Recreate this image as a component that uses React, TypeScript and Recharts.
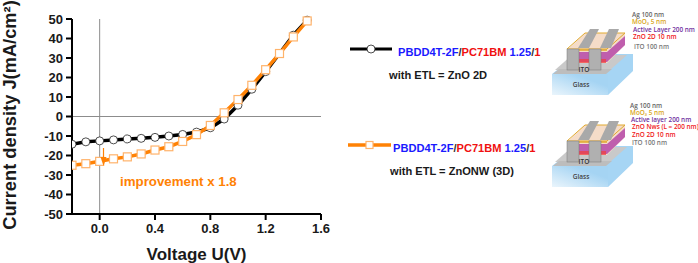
import { ComposedChart, Line, XAxis, YAxis, ReferenceLine } from 'recharts'

const voltage = [-0.2, -0.1, 0, 0.1, 0.2, 0.3, 0.4, 0.5, 0.6, 0.7, 0.8, 0.9, 1.0, 1.1, 1.2, 1.3, 1.4, 1.5]
const zno2d = [-14.2, -13, -12.5, -12, -11.5, -11.2, -10.7, -10, -9.2, -8, -5.8, -1.3, 5.8, 14, 23, 32.3, 41.7, 49.4]
const znoNw = [-25, -24.2, -23, -21.7, -20.7, -19.2, -17.2, -15.5, -12.8, -9.3, -4.6, 1.9, 8.7, 16, 24, 32.3, 40.8, 49]
const xTicks = [0, 0.4, 0.8, 1.2, 1.6]
const yTicks = [-50, -40, -30, -20, -10, 0, 10, 20, 30, 40, 50]

const data = voltage.map((v, i) => ({ v, zno2d: zno2d[i], znoNw: znoNw[i] }))

const ORANGE = '#ff8205'
const FONT = '"Liberation Sans", Arial, sans-serif'

function SquareDot({ cx, cy }: any) {
  return <rect x={cx - 4} y={cy - 4} width={8} height={8} fill="#fff" stroke="#ffb36b" strokeWidth={1.2} />
}

function Device({ dy, labels }: { dy: number; labels: { text: string; x: number; y: number; color: string }[] }) {
  return (
    <g fontFamily={'"Open Sans", sans-serif'}>
      {labels.map((l) => (
        <text key={l.text} x={l.x} y={l.y} fontSize={6.4} fontWeight={600} fill={l.color}>{l.text}</text>
      ))}
      <g transform={`translate(0 ${dy})`}>
        <defs>
          <linearGradient id={`glass${dy}`} x1="0" y1="1" x2="1" y2="0">
            <stop offset="0" stopColor="#eaf5fc" />
            <stop offset="0.7" stopColor="#a5d4f3" />
          </linearGradient>
        </defs>
        <polygon points="552,74 608,74 608,95 552,95" fill={`url(#glass${dy})`} />
        <polygon points="552,74 578,54 633,54 633,71 608,95 608,74" fill="#a6d5f4" />
        <polygon points="555,70 610,70 627,55 572,55" fill="#c9c9c9" />
        <polygon points="553,74 606,74 612,69 559,69" fill="#bdbdbd" />
        <polygon points="567,50 585,33 625,33 625,45 607,63 567,63" fill="#f5dcc8" />
        <polygon points="567,52 607,52 625,36 625,45 607,62 567,62" fill="#b23fa6" opacity={0.8} />
        <polygon points="568,59 606,59 606,63 568,63" fill="#f04040" opacity={0.75} />
        <polygon points="567,49 585,33 625,33 607,49" fill="none" stroke="#e0a92e" strokeWidth={1} />
        <line x1="567" y1="50" x2="607" y2="50" stroke="#e0a92e" strokeWidth={1.5} />
        <polygon points="578,48 590,29 599,29 589,48" fill="#a9a9a9" />
        <polygon points="600,48 609,29 619,29 611,48" fill="#a9a9a9" />
        <rect x="567" y="49" width="12" height="21" fill="#b0b0b0" stroke="#777" strokeWidth={0.5} />
        <rect x="589" y="49" width="12" height="21" fill="#b0b0b0" stroke="#777" strokeWidth={0.5} />
        <text x="584" y="71.5" fontSize={6.5} fontWeight={600} textAnchor="middle" fill="#333">ITO</text>
        <text x="581" y="86.5" fontSize={6.5} fontWeight={600} textAnchor="middle" fill="#444">Glass</text>
      </g>
    </g>
  )
}

function Title({ x, y }: { x: number; y: number }) {
  return (
    <text x={x} y={y} fontSize={11.1} fontWeight={700} fontFamily={FONT}>
      <tspan fill="#1a1aff">PBDD4T-2F</tspan>
      <tspan fill="#333">/</tspan>
      <tspan fill="#f01010">PC71BM</tspan>
      <tspan fill="#1a1aff"> 1.25</tspan>
      <tspan fill="#333">/</tspan>
      <tspan fill="#f01010">1</tspan>
    </text>
  )
}

function YTitle() {
  return (
    <text
      transform="translate(16 115) rotate(-90)"
      textAnchor="middle"
      fontSize={18.3}
      fontWeight={700}
      fontFamily={FONT}
      fill="#1a1a1a"
    >
      Current density J(mA/cm²)
    </text>
  )
}

export default function App() {
  return (
    <div style={{ position: 'absolute', left: 0, top: 0, width: 698, height: 263, background: '#fff' }}>
      <ComposedChart
        width={698}
        height={263}
        data={data}
        margin={{ top: 19, right: 377, bottom: 0, left: 0 }}
        style={{ fontFamily: FONT }}
      >
        <XAxis
          dataKey="v"
          type="number"
          domain={[-0.2, 1.6]}
          ticks={xTicks}
          interval={0}
          allowDataOverflow
          tickFormatter={(v: number) => v.toFixed(1)}
          height={49}
          tickSize={6}
          tickMargin={4}
          axisLine={{ stroke: '#000', strokeWidth: 2 }}
          tickLine={{ stroke: '#000', strokeWidth: 2 }}
          tick={{ fill: '#1a1a1a', fontSize: 13, fontWeight: 700 }}
          label={{ value: 'Voltage U(V)', position: 'insideBottom', offset: 3, fill: '#1a1a1a', fontSize: 17, fontWeight: 700 }}
        />
        <YAxis
          type="number"
          domain={[-50, 50]}
          ticks={yTicks}
          interval={0}
          width={72}
          tickSize={6}
          tickMargin={3}
          axisLine={{ stroke: '#000', strokeWidth: 2 }}
          tickLine={{ stroke: '#000', strokeWidth: 2 }}
          tick={{ fill: '#1a1a1a', fontSize: 13, fontWeight: 700 }}
        />
        <ReferenceLine x={0} stroke="#8c8c8c" strokeWidth={1} />
        <ReferenceLine y={0} stroke="#8c8c8c" strokeWidth={1} />
        <Line
          dataKey="zno2d"
          stroke="#000"
          strokeWidth={3.5}
          dot={{ r: 4, fill: '#fff', stroke: '#222', strokeWidth: 0.8 }}
          isAnimationActive={false}
        />
        <Line
          dataKey="znoNw"
          stroke={ORANGE}
          strokeWidth={3.5}
          dot={(p: any) => <SquareDot key={p.index} cx={p.cx} cy={p.cy} />}
          isAnimationActive={false}
        />
      </ComposedChart>

      <svg width={698} height={263} style={{ position: 'absolute', left: 0, top: 0 }}>
        <YTitle />
        <line x1="103.5" y1="148" x2="103.5" y2="160" stroke={ORANGE} strokeWidth={1.2} />
        <polygon points="100.5,157 106.5,157 103.5,166" fill={ORANGE} />
        <text x={120} y={186} fontSize={13.3} fontWeight={700} fontFamily={FONT} fill={ORANGE}>improvement x 1.8</text>

        <line x1="350" y1="49" x2="392" y2="49" stroke="#000" strokeWidth={3} />
        <circle cx="371" cy="49" r="4" fill="#fff" stroke="#222" strokeWidth={0.8} />
        <Title x={398} y={56} />
        <text x={389} y={79} fontSize={11.1} fontWeight={700} fontFamily={FONT} fill="#1a1a1a">with ETL = ZnO 2D</text>

        <line x1="348" y1="145" x2="391" y2="145" stroke={ORANGE} strokeWidth={3.3} />
        <rect x="366" y="141.5" width="7" height="7" fill="#fff" stroke="#ffb36b" strokeWidth={1.2} />
        <Title x={393} y={152} />
        <text x={390} y={175} fontSize={11.1} fontWeight={700} fontFamily={FONT} fill="#1a1a1a">with ETL = ZnONW (3D)</text>

        <Device
          dy={0}
          labels={[
            { text: 'Ag 100 nm', x: 632, y: 16.5, color: '#666' },
            { text: 'MoO₃ 5 nm', x: 632, y: 23.5, color: '#d9a520' },
            { text: 'Active Layer 200 nm', x: 633, y: 31.5, color: '#7030a0' },
            { text: 'ZnO 2D 10 nm', x: 633, y: 38.5, color: '#f02020' },
            { text: 'ITO 100 nm', x: 634, y: 48.5, color: '#777' },
          ]}
        />
        <Device
          dy={92}
          labels={[
            { text: 'Ag 100 nm', x: 630, y: 108.3, color: '#666' },
            { text: 'MoO₃ 5 nm', x: 630, y: 115.3, color: '#d9a520' },
            { text: 'Active layer 200 nm', x: 631, y: 122.3, color: '#7030a0' },
            { text: 'ZnO Nws (L = 200 nm)', x: 632, y: 129.3, color: '#f02020' },
            { text: 'ZnO 2D 10 nm', x: 632, y: 137, color: '#f02020' },
            { text: 'ITO 100 nm', x: 632, y: 144.5, color: '#777' },
          ]}
        />
      </svg>
    </div>
  )
}
